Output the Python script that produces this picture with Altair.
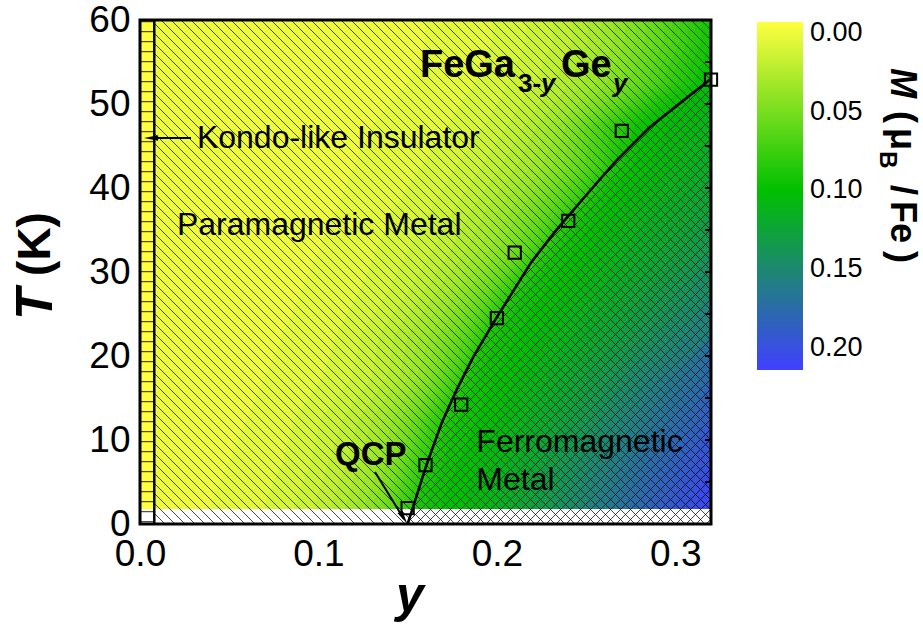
import altair as alt
import numpy as np
import pandas as pd

FONT = "Liberation Sans"

# ---------------- data ----------------
# magnetisation map M (muB/Fe): columns are y (Ge content), rows are T (K)
Y_CENTERS = [0.005, 0.015, 0.025, 0.035, 0.045, 0.055, 0.065, 0.075, 0.085, 0.095,
             0.105, 0.115, 0.125, 0.135, 0.145, 0.155, 0.165, 0.175, 0.185, 0.195,
             0.205, 0.215, 0.225, 0.235, 0.245, 0.255, 0.265, 0.275, 0.285, 0.295,
             0.305, 0.315]
T_ROWS = [2.5, 7.5, 12.5, 17.5, 22.5, 27.5, 32.5, 37.5, 42.5, 47.5, 52.5, 57.5]
M_T02 = [0, 0, 0.001, 0.002, 0.003, 0.004, 0.006, 0.009, 0.012, 0.016, 0.021, 0.027, 0.036, 0.047, 0.068, 0.088,
         0.096, 0.100, 0.104, 0.109, 0.116, 0.124, 0.132, 0.140, 0.148, 0.157, 0.165, 0.173, 0.181, 0.189, 0.197, 0.205]
M_T07 = [0, 0, 0, 0.001, 0.002, 0.003, 0.004, 0.006, 0.009, 0.012, 0.017, 0.022, 0.029, 0.038, 0.050, 0.072,
         0.089, 0.096, 0.100, 0.105, 0.111, 0.118, 0.126, 0.134, 0.142, 0.150, 0.158, 0.166, 0.174, 0.181, 0.188, 0.195]
M_T12 = [0, 0, 0, 0, 0.001, 0.002, 0.003, 0.005, 0.007, 0.010, 0.014, 0.018, 0.024, 0.031, 0.041, 0.056,
         0.077, 0.091, 0.096, 0.100, 0.105, 0.111, 0.118, 0.125, 0.132, 0.140, 0.148, 0.156, 0.163, 0.170, 0.177, 0.184]
M_T17 = [0, 0, 0, 0, 0, 0.001, 0.002, 0.003, 0.004, 0.006, 0.008, 0.011, 0.015, 0.020, 0.027, 0.037,
         0.050, 0.068, 0.090, 0.096, 0.100, 0.105, 0.111, 0.117, 0.124, 0.131, 0.138, 0.146, 0.153, 0.160, 0.167, 0.173]
M_T22 = [0, 0, 0, 0, 0, 0, 0.001, 0.002, 0.003, 0.004, 0.006, 0.009, 0.013, 0.018, 0.024, 0.031,
         0.040, 0.052, 0.066, 0.088, 0.095, 0.099, 0.104, 0.109, 0.114, 0.120, 0.126, 0.132, 0.139, 0.145, 0.151, 0.157]
M_T27 = [0, 0, 0, 0, 0, 0, 0, 0.001, 0.002, 0.003, 0.004, 0.006, 0.008, 0.011, 0.015, 0.020,
         0.027, 0.035, 0.045, 0.058, 0.078, 0.092, 0.097, 0.101, 0.106, 0.111, 0.117, 0.123, 0.129, 0.134, 0.140, 0.146]
M_T32 = [0, 0, 0, 0, 0, 0, 0, 0, 0.001, 0.002, 0.003, 0.004, 0.006, 0.008, 0.011, 0.014,
         0.018, 0.023, 0.029, 0.037, 0.047, 0.060, 0.080, 0.093, 0.099, 0.104, 0.109, 0.114, 0.119, 0.124, 0.129, 0.134]
M_T37 = [0, 0, 0, 0, 0, 0, 0, 0, 0, 0.001, 0.002, 0.003, 0.004, 0.006, 0.008, 0.010,
         0.013, 0.017, 0.022, 0.028, 0.035, 0.044, 0.055, 0.068, 0.085, 0.096, 0.101, 0.106, 0.111, 0.115, 0.120, 0.124]
M_T42 = [0, 0, 0, 0, 0, 0, 0, 0, 0, 0, 0.001, 0.002, 0.003, 0.004, 0.005, 0.007,
         0.009, 0.012, 0.015, 0.019, 0.024, 0.030, 0.037, 0.046, 0.057, 0.071, 0.088, 0.097, 0.102, 0.106, 0.110, 0.114]
M_T47 = [0, 0, 0, 0, 0, 0, 0, 0, 0, 0, 0, 0.001, 0.002, 0.003, 0.004, 0.005,
         0.006, 0.008, 0.010, 0.013, 0.017, 0.022, 0.029, 0.038, 0.050, 0.065, 0.079, 0.091, 0.098, 0.102, 0.105, 0.108]
M_T52 = [0, 0, 0, 0, 0, 0, 0, 0, 0, 0, 0, 0, 0.001, 0.002, 0.002, 0.003,
         0.004, 0.005, 0.007, 0.009, 0.012, 0.015, 0.019, 0.024, 0.030, 0.037, 0.045, 0.054, 0.064, 0.076, 0.088, 0.097]
M_T57 = [0, 0, 0, 0, 0, 0, 0, 0, 0, 0, 0, 0, 0, 0, 0.001, 0.002,
         0.003, 0.004, 0.005, 0.007, 0.009, 0.012, 0.015, 0.019, 0.024, 0.030, 0.037, 0.045, 0.054, 0.064, 0.075, 0.088]
M_ROWS = [M_T02, M_T07, M_T12, M_T17, M_T22, M_T27, M_T32, M_T37, M_T42, M_T47, M_T52, M_T57]

# Curie temperature points and phase boundary
PTS_Y = [0.15, 0.16, 0.18, 0.20, 0.21, 0.24, 0.27, 0.32]
PTS_T = [1.9, 7.0, 14.2, 24.5, 32.3, 36.1, 46.8, 52.9]
CURVE_Y = [0.150, 0.1605, 0.169, 0.1775, 0.1868, 0.2005, 0.2194, 0.2326, 0.2478, 0.2667, 0.2855, 0.3044, 0.320]
CURVE_T = [0.0, 7.0, 12.0, 16.0, 19.9, 24.8, 31.2, 34.8, 38.6, 43.2, 47.2, 50.4, 53.0]

Y_DOMAIN = [0, 0.32]
T_DOMAIN = [0, 60]
T_FLOOR = 1.8          # lowest measured temperature
Y_KONDO = 0.008        # Kondo-like insulator strip (FeGa3)
X_TICKS = [0.0, 0.1, 0.2, 0.3]
T_TICKS = [0, 10, 20, 30, 40, 50, 60]
T_MINOR = [5, 10, 15, 20, 25, 30, 35, 40, 45, 50, 55]
M_TICKS = [0.0, 0.05, 0.10, 0.15, 0.20]
M_DOMAIN = [0.214, 0.10, -0.007]
M_COLORS = ["#4040ff", "#00c000", "#ffff40"]

# ---------------- layout ----------------
W, H = 571, 504
PAD = {"left": 140, "top": 20, "right": 923 - 140 - W, "bottom": 626 - 20 - H}
HATCH = 10.0     # hatch spacing in px
TICK_LEN = 6.0
LEVEL_STEP = 0.005   # colour-flood level spacing

xs = alt.Scale(domain=Y_DOMAIN, nice=False, zero=False)
ys = alt.Scale(domain=T_DOMAIN, nice=False, zero=False)
cscale = alt.Scale(domain=M_DOMAIN, range=M_COLORS, interpolate="rgb")

# colour flood (filled contours of the M grid): each level is filled from its
# lower iso-line to the right edge, higher levels painted on top
rows_T = [T_DOMAIN[0]] + T_ROWS + [T_DOMAIN[1]]
rows_M = [M_ROWS[0]] + M_ROWS + [M_ROWS[-1]]
levels = np.arange(0, max(max(r) for r in M_ROWS) + LEVEL_STEP, LEVEL_STEP)
band_recs = []
for kb, v in enumerate(levels):
    lo_level = v - LEVEL_STEP / 2
    for t, row in zip(rows_T, rows_M):
        r = np.array(row, dtype=float)
        if kb == 0:
            xa = Y_DOMAIN[0]
        elif lo_level > r.max():
            xa = Y_DOMAIN[1]
        else:
            xa = float(np.interp(lo_level, r, Y_CENTERS))
        band_recs.append({"band": kb, "M": round(float(v), 4), "T": t, "xa": xa, "xb": Y_DOMAIN[1]})
df_bands = pd.DataFrame(band_recs)


def to_data(px, py):
    return px / W * Y_DOMAIN[1], (H - py) / H * T_DOMAIN[1]


# "\" hatch everywhere
back = []
k = -float(W)
while k <= H:
    lo, hi = max(0.0, -k), min(float(W), H - k)
    if hi > lo:
        a = to_data(lo, lo + k)
        b = to_data(hi, hi + k)
        back.append({"ya": a[0], "ta": a[1], "yb": b[0], "tb": b[1]})
    k += HATCH
df_back = pd.DataFrame(back)

# "/" hatch inside the ferromagnetic region
cy, ct = np.array(CURVE_Y), np.array(CURVE_T)
pxs = np.arange(0, W + 0.001, 0.25)
fwd = []
k = 0.0
while k <= W + H:
    py = k - pxs
    yv = pxs / W * Y_DOMAIN[1]
    tv = (H - py) / H * T_DOMAIN[1]
    inside = (py >= 0) & (py <= H) & (yv >= CURVE_Y[0]) & (tv <= np.interp(yv, cy, ct))
    idx = np.where(inside)[0]
    if len(idx) > 1:
        a = to_data(pxs[idx[0]], k - pxs[idx[0]])
        b = to_data(pxs[idx[-1]], k - pxs[idx[-1]])
        fwd.append({"ya": a[0], "ta": a[1], "yb": b[0], "tb": b[1]})
    k += HATCH
df_fwd = pd.DataFrame(fwd)

# horizontal lines of the Kondo strip
kl = []
pyk = 1.7
while pyk < H:
    t = to_data(0, pyk)[1]
    kl.append({"ya": 0.0, "yb": Y_KONDO, "ta": t})
    pyk += HATCH
df_kl = pd.DataFrame(kl)

# inward ticks on the right frame
df_rt = pd.DataFrame({"ya": [Y_DOMAIN[1] - TICK_LEN / W * Y_DOMAIN[1]] * len(T_MINOR),
                      "yb": [Y_DOMAIN[1]] * len(T_MINOR), "ta": T_MINOR})

df_frame = pd.DataFrame({"y0": [Y_DOMAIN[0]], "y1": [Y_DOMAIN[1]], "t0": [T_DOMAIN[0]], "t1": [T_DOMAIN[1]],
                         "tf": [T_FLOOR], "yk": [Y_KONDO]})
df_curve = pd.DataFrame({"y": CURVE_Y, "T": CURVE_T})
df_pts = pd.DataFrame({"y": PTS_Y, "T": PTS_T})


def X(f):
    return alt.X(f, type="quantitative", scale=xs, title="")


def Y(f):
    return alt.Y(f, type="quantitative", scale=ys, title="")


bands = alt.Chart(df_bands).mark_area(orient="horizontal", interpolate="linear").encode(
    y=alt.Y("T:Q", scale=ys, title="",
            axis=alt.Axis(values=T_TICKS, labelFontSize=37, ticks=False, domain=False, grid=False,
                          labelPadding=10, labelFont=FONT, labelColor="black", labelFlush=False)),
    x=alt.X("xa:Q", scale=xs, title="",
            axis=alt.Axis(values=X_TICKS, format=".1f", labelFontSize=37, ticks=False, domain=False,
                          grid=False, labelPadding=12, labelFont=FONT, labelColor="black", labelFlush=False)),
    x2="xb:Q",
    detail="band:O",
    color=alt.Color("M:Q", scale=cscale, title="",
                    legend=alt.Legend(type="gradient", orient="none", legendX=617, legendY=2,
                                      direction="vertical", gradientLength=348, gradientThickness=46,
                                      gradientStrokeWidth=0, values=M_TICKS, format=".2f",
                                      labelFontSize=27, labelFont=FONT, labelColor="black",
                                      labelOffset=7, labelOverlap=False)),
)

floor = alt.Chart(df_frame).mark_rect(color="white").encode(
    x=X("y0"), x2="y1", y=Y("t0"), y2="tf")

hatch_back = alt.Chart(df_back).mark_rule(color="black", strokeWidth=0.9, opacity=0.8, clip=True).encode(
    x=X("ya"), y=Y("ta"), x2="yb", y2="tb")
hatch_fwd = alt.Chart(df_fwd).mark_rule(color="black", strokeWidth=0.9, opacity=0.8, clip=True).encode(
    x=X("ya"), y=Y("ta"), x2="yb", y2="tb")

strip = alt.Chart(df_frame).mark_rect(color="#ffff40").encode(
    x=X("y0"), x2="yk", y=Y("tf"), y2="t1")
strip_floor = alt.Chart(df_frame).mark_rect(color="white").encode(
    x=X("y0"), x2="yk", y=Y("t0"), y2="tf")
strip_lines = alt.Chart(df_kl).mark_rule(color="black", strokeWidth=1, opacity=0.85).encode(
    x=X("ya"), x2="yb", y=Y("ta"))
strip_edge = alt.Chart(df_frame).mark_rule(color="black", strokeWidth=2.5).encode(
    x=X("yk"), y=Y("t0"), y2="t1")

curve = alt.Chart(df_curve).mark_line(color="black", strokeWidth=2.6).encode(x=X("y"), y=Y("T"))
pts = alt.Chart(df_pts).mark_point(shape="square", filled=False, color="black", strokeWidth=2,
                                   size=150, opacity=1).encode(x=X("y"), y=Y("T"))

# arrows (annotation)
df_arrows = pd.DataFrame({"ya": [0.0286, 0.1317], "ta": [45.95, 6.2],
                          "yb": [0.0060, 0.1479], "tb": [45.95, 0.6]})
arrows = alt.Chart(df_arrows).mark_rule(color="black", strokeWidth=2).encode(
    x=X("ya"), y=Y("ta"), x2="yb", y2="tb")
head_k = alt.Chart(pd.DataFrame({"y": [0.0062], "T": [45.95]})).mark_point(
    shape="M0,-1L0.38,1L-0.38,1Z", filled=True, color="black", opacity=1, size=200, angle=270).encode(
    x=X("y"), y=Y("T"))
head_q = alt.Chart(pd.DataFrame({"y": [0.1477], "T": [0.75]})).mark_point(
    shape="M0,-1L0.38,1L-0.38,1Z", filled=True, color="black", opacity=1, size=200, angle=148).encode(
    x=X("y"), y=Y("T"))

right_ticks = alt.Chart(df_rt).mark_rule(color="black", strokeWidth=2).encode(
    x=X("ya"), x2="yb", y=Y("ta"))


def txt(y, T, s, **kw):
    d = pd.DataFrame({"y": [y], "T": [T], "s": [s]})
    return alt.Chart(d).mark_text(font=FONT, color="black", align="left", baseline="alphabetic", **kw).encode(
        x=X("y"), y=Y("T"), text="s:N")


def ptxt(x, y, s, **kw):
    d = pd.DataFrame({"s": [s]})
    return alt.Chart(d).mark_text(font=FONT, color="black", **kw).encode(
        x=alt.value(x), y=alt.value(y), text="s:N")


texts = [
    txt(0.0319, 44.8, "Kondo-like Insulator", fontSize=32),
    txt(0.0207, 34.4, "Paramagnetic Metal", fontSize=32),
    txt(0.1885, 8.6, "Ferromagnetic", fontSize=32),
    txt(0.1885, 4.0, "Metal", fontSize=32),
    txt(0.1093, 7.0, "QCP", fontSize=33, fontWeight="bold"),
    txt(0.1569, 53.2, "FeGa", fontSize=38, fontWeight="bold"),
    txt(0.2118, 51.4, "3-", fontSize=26, fontWeight="bold"),
    txt(0.2247, 51.4, "y", fontSize=26, fontWeight="bold", fontStyle="italic"),
    txt(0.2359, 53.2, "Ge", fontSize=38, fontWeight="bold"),
    txt(0.2651, 51.4, "y", fontSize=26, fontWeight="bold", fontStyle="italic"),
]

outside = [
    ptxt(270, 592, "y", fontSize=50, fontWeight="bold", fontStyle="italic", align="center", baseline="alphabetic"),
    ptxt(-104, 284, "T", fontSize=52, fontWeight="bold", fontStyle="italic", align="center", baseline="middle", angle=270),
    ptxt(-104, 224, "(K)", fontSize=46, fontWeight="bold", align="center", baseline="middle", angle=270),
    ptxt(762, 63, "M", fontSize=36, fontWeight="bold", fontStyle="italic", align="center", baseline="middle", angle=90),
    ptxt(762, 97, "(", fontSize=36, fontWeight="bold", align="center", baseline="middle", angle=90),
    ptxt(762, 119, "\u03bc", fontSize=36, fontWeight="bold", align="center", baseline="middle", angle=90),
    ptxt(747, 140, "B", fontSize=24, fontWeight="bold", align="center", baseline="middle", angle=90),
    ptxt(762, 170, "/", fontSize=36, fontWeight="bold", align="center", baseline="middle", angle=90),
    ptxt(762, 202, "Fe", fontSize=36, fontWeight="bold", align="center", baseline="middle", angle=90),
    ptxt(762, 237, ")", fontSize=36, fontWeight="bold", align="center", baseline="middle", angle=90),
]

frame = alt.Chart(df_frame).mark_rect(filled=False, stroke="black", strokeWidth=3).encode(
    x=X("y0"), x2="y1", y=Y("t0"), y2="t1")

chart = alt.layer(
    bands, floor, hatch_back, hatch_fwd, strip_floor, strip, strip_lines, strip_edge,
    curve, pts, arrows, head_k, head_q, right_ticks, *texts, frame, *outside
).properties(
    width=W, height=H, padding=PAD, autosize=alt.AutoSizeParams(type="none"), background="white"
).configure_view(strokeWidth=0).configure(font=FONT)

chart.save("out.html", embed_options={"renderer": "svg", "actions": False})
